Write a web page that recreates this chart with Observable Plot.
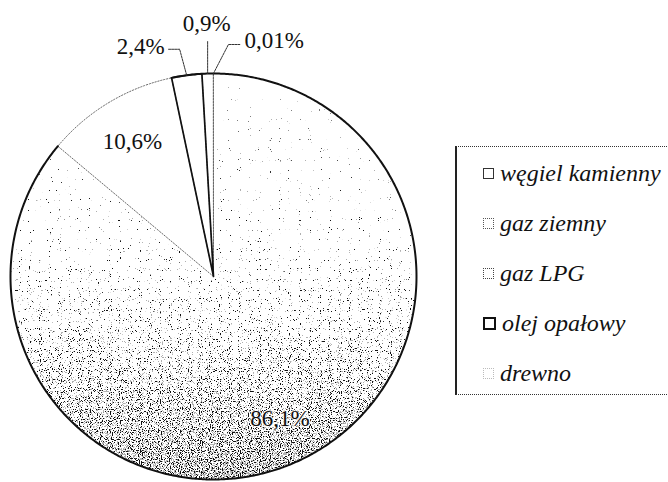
<!DOCTYPE html>
<html>
<head>
<meta charset="utf-8">
<script src="https://cdn.jsdelivr.net/npm/d3@7"></script>
<script src="https://cdn.jsdelivr.net/npm/@observablehq/plot@0.6"></script>
<style>
  body { margin: 0; background: #fff; }
  #wrap { position: relative; width: 668px; height: 482px; overflow: hidden; font-family: 'Liberation Serif', serif; background: #fff; }
  #chart { position: absolute; left: 0; top: 0; }
  #legend { position: absolute; left: 455px; top: 146px; width: 240px; height: 249px; box-sizing: border-box;
            border-left: 2px solid #222; border-top: 1.5px dotted #333; border-bottom: 1.5px dotted #333; }
  .item { position: absolute; left: 26px; height: 26px; display: flex; align-items: center;
          font-family: 'Liberation Serif', serif;
          font-style: italic; font-size: 24px; color: #111; white-space: nowrap; }
  .sw { display: inline-block; width: 9px; height: 9px; margin-right: 6px; box-sizing: content-box; background: #fff; }
</style>
</head>
<body>
<div id="wrap">
  <div id="chart"></div>
  <div id="legend"></div>
</div>
<script>
// ---- data ----
const categories = ["węgiel kamienny", "gaz ziemny", "gaz LPG", "olej opałowy", "drewno"];
const shares = [10.6, 2.4, 0.9, 0.01, 86.1];
const shareLabels = ["10,6%", "2,4%", "0,9%", "0,01%", "86,1%"];

// ---- layout (styling only) ----
const R_PX = 203;
const insideLabels = ["węgiel kamienny", "drewno"];
const leaderLayout = {
  "gaz ziemny":   { elbow: [-7, -26], end: [-12, 0], anchor: "end",    tdx: -3, tdy: -3 },
  "gaz LPG":      { elbow: [0, -33],  end: [0, 0],   anchor: "middle", tdx: -1, tdy: -17 },
  "olej opałowy": { elbow: [15, -29], end: [12, 0],  anchor: "start",  tdx: 4,  tdy: -4 }
};
const legendSwatch = {
  "węgiel kamienny": "border:1.5px solid #333;",
  "gaz ziemny": "border:1px dotted #555;",
  "gaz LPG": "border:1px dotted #444;",
  "olej opałowy": "border:2px solid #111;",
  "drewno": "border:1px dotted #bbb;"
};
const FONT = "'Liberation Serif', serif";
const DREWNO_KEY = "#010203";

// ---- geometry from data ----
const total = d3.sum(shares);
const iD = categories.indexOf("drewno");
const startDeg = -360 * d3.sum(shares.slice(0, iD)) / total;
let acc = startDeg;
const slices = categories.map((c, i) => {
  const a0 = acc, a1 = acc + 360 * shares[i] / total;
  acc = a1;
  return { cat: c, value: shares[i], label: shareLabels[i], a0, a1, mid: (a0 + a1) / 2 };
});
const rad = a => a * Math.PI / 180;
const pt = (a, r = 1) => [r * Math.sin(rad(a)), r * Math.cos(rad(a))];
function arcPts(a0, a1) {
  const n = Math.max(2, Math.ceil(Math.abs(a1 - a0) / 0.5) + 1);
  return d3.range(n).map(k => pt(a0 + (a1 - a0) * k / (n - 1)));
}
function polygon(s) {
  return [[0, 0], ...arcPts(s.a0, s.a1), [0, 0]].map(([x, y]) => ({ cat: s.cat, x, y }));
}
const S = Object.fromEntries(slices.map(s => [s.cat, s]));
const drewnoPoly = polygon(S["drewno"]);
const whitePolys = slices.filter(s => s.cat !== "drewno").flatMap(polygon);
const dottedPolys = ["węgiel kamienny", "gaz LPG", "olej opałowy"].flatMap(c => polygon(S[c]));
const gazPoly = polygon(S["gaz ziemny"]);
const blackArc = arcPts(S["gaz ziemny"].a0, S["drewno"].a1).map(([x, y]) => ({ x, y }));

const inside = slices.filter(s => insideLabels.includes(s.cat)).map(s => {
  const [x, y] = pt(s.mid, 0.775);
  return { x, y, label: s.label };
});
const px = v => v / R_PX;
const leaders = [], outsideText = [];
for (const s of slices) {
  const L = leaderLayout[s.cat];
  if (!L) continue;
  const [ax, ay] = pt(s.mid);
  const ex = ax + px(L.elbow[0]), ey = ay - px(L.elbow[1]);
  const fx = ex + px(L.end[0]), fy = ey - px(L.end[1]);
  leaders.push({ cat: s.cat, x: ax, y: ay }, { cat: s.cat, x: ex, y: ey }, { cat: s.cat, x: fx, y: fy });
  outsideText.push({ x: fx, y: fy, label: s.label, anchor: L.anchor, dx: L.tdx, dy: L.tdy });
}

const chart = Plot.plot({
  width: 668, height: 482,
  marginLeft: 10, marginRight: 252, marginTop: 73, marginBottom: 3,
  x: { domain: [-1, 1], axis: null },
  y: { domain: [-1, 1], axis: null },
  style: { fontFamily: FONT, background: "transparent", overflow: "visible" },
  marks: [
    Plot.line(whitePolys, { x: "x", y: "y", z: "cat", fill: "white", stroke: "none" }),
    Plot.line(drewnoPoly, { x: "x", y: "y", fill: DREWNO_KEY, stroke: "none" }),
    Plot.line(dottedPolys, { x: "x", y: "y", z: "cat", fill: "none", stroke: "#6a6a6a", strokeWidth: 1, strokeDasharray: "1.3,1.7" }),
    Plot.line(gazPoly, { x: "x", y: "y", fill: "none", stroke: "#111", strokeWidth: 1.7, strokeLinejoin: "round" }),
    Plot.line(blackArc, { x: "x", y: "y", stroke: "#111", strokeWidth: 2 }),
    Plot.line(leaders, { x: "x", y: "y", z: "cat", stroke: "#333", strokeWidth: 1, strokeDasharray: "2,1" }),
    Plot.text(inside, { x: "x", y: "y", text: "label", fontSize: 23, fill: "#111", fontFamily: FONT,
                        stroke: "white", strokeWidth: 2.5, strokeOpacity: 0.75, paintOrder: "stroke" }),
    ...outsideText.map(d => Plot.text([d], { x: "x", y: "y", text: "label", fontSize: 23, fill: "#111", fontFamily: FONT,
                                             textAnchor: d.anchor, dx: d.dx, dy: d.dy }))
  ]
});
document.getElementById("chart").appendChild(chart);

// stipple texture for "drewno" (light at top, dense at bottom)
const svg = d3.select(chart);
const defs = svg.insert("defs", ":first-child");
const g = defs.append("linearGradient").attr("id", "drewnoGrad").attr("x1", 0).attr("y1", 0).attr("x2", 0).attr("y2", 1);
[[0, 0.0], [0.4, 0.03], [0.62, 0.13], [0.82, 0.27], [1, 0.37]].forEach(([o, a]) =>
  g.append("stop").attr("offset", o).attr("stop-color", "#000").attr("stop-opacity", a));
const f = defs.append("filter").attr("id", "stipple").attr("x", "-2%").attr("y", "-2%").attr("width", "104%").attr("height", "104%")
  .attr("color-interpolation-filters", "sRGB");
f.append("feTurbulence").attr("type", "fractalNoise").attr("baseFrequency", 0.9).attr("numOctaves", 1).attr("seed", 4).attr("result", "noise");
f.append("feColorMatrix").attr("in", "noise").attr("type", "matrix")
  .attr("values", "0 0 0 0 0  0 0 0 0 0  0 0 0 0 0  -2 0 0 0 1.5").attr("result", "inv");
const mk = f.append("feComponentTransfer").attr("in", "SourceAlpha").attr("result", "mask");
mk.append("feFuncA").attr("type", "linear").attr("slope", 1000).attr("intercept", 0);
f.append("feComposite").attr("in", "SourceAlpha").attr("in2", "inv").attr("operator", "arithmetic")
  .attr("k1", 0).attr("k2", 1).attr("k3", 1).attr("k4", -1).attr("result", "diff");
f.append("feComposite").attr("in", "SourceAlpha").attr("in2", "inv").attr("operator", "arithmetic")
  .attr("k1", 0).attr("k2", 1.4).attr("k3", 1).attr("k4", -0.97).attr("result", "diff2");
const ct1 = f.append("feComponentTransfer").attr("in", "diff").attr("result", "bin");
ct1.append("feFuncA").attr("type", "linear").attr("slope", 40).attr("intercept", 0);
const ct2 = f.append("feComponentTransfer").attr("in", "diff2").attr("result", "bin2");
ct2.append("feFuncA").attr("type", "linear").attr("slope", 40).attr("intercept", 0);
f.append("feFlood").attr("flood-color", "#111").attr("result", "ink");
f.append("feFlood").attr("flood-color", "#b0b0b0").attr("result", "ink2");
f.append("feComposite").attr("in", "ink").attr("in2", "bin").attr("operator", "in").attr("result", "dark");
f.append("feComposite").attr("in", "ink2").attr("in2", "bin2").attr("operator", "in").attr("result", "light");
const m = f.append("feMerge").attr("result", "merged");
m.append("feMergeNode").attr("in", "light");
m.append("feMergeNode").attr("in", "dark");
f.append("feComposite").attr("in", "merged").attr("in2", "mask").attr("operator", "in");
svg.selectAll(`[fill="${DREWNO_KEY}"]`).attr("fill", "url(#drewnoGrad)").attr("filter", "url(#stipple)");

// legend
const legend = document.getElementById("legend");
categories.forEach((c, i) => {
  const it = document.createElement("div");
  it.className = "item";
  it.style.top = (13 + i * 50) + "px";
  const sw = document.createElement("span");
  sw.className = "sw";
  sw.style.cssText = legendSwatch[c];
  it.appendChild(sw);
  it.appendChild(document.createTextNode(c));
  legend.appendChild(it);
});
</script>
</body>
</html>
